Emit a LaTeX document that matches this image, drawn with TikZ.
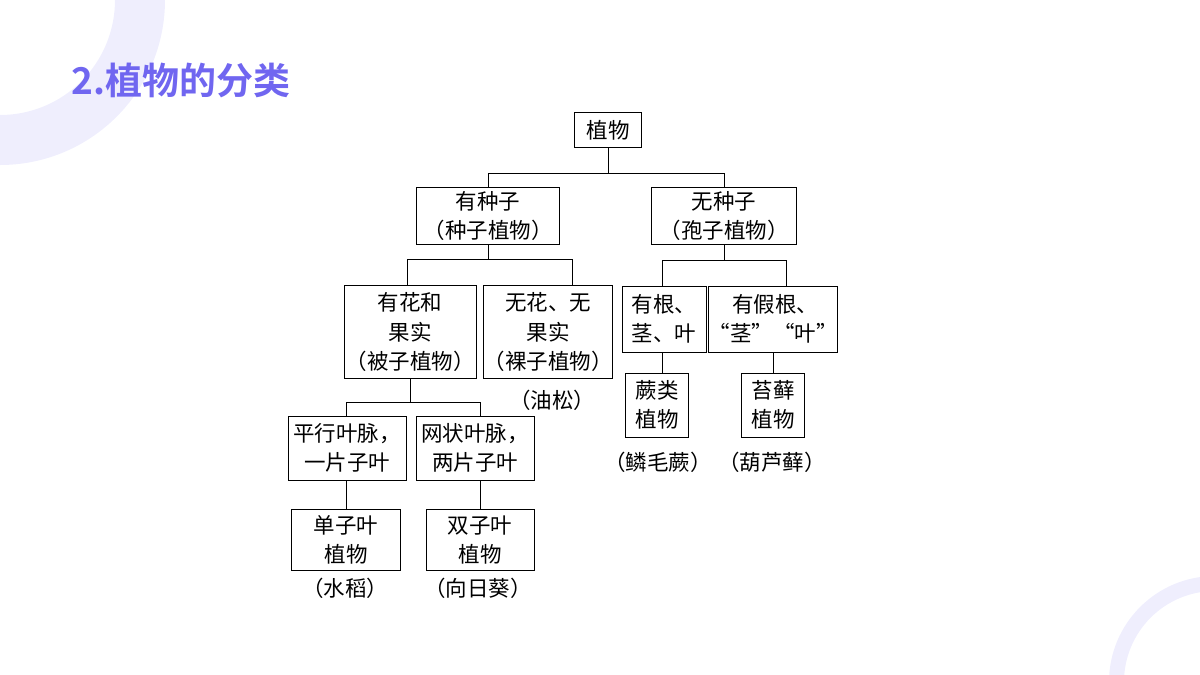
\documentclass[tikz,border=0pt]{standalone}
\usepackage{fontspec}
\setmainfont{Noto Sans CJK SC}
\newfontfamily\titlefont{Noto Sans CJK SC Bold}
\definecolor{ring}{HTML}{EFEEFD}
\definecolor{titlepurple}{HTML}{7066F0}
\tikzset{
    box/.style={draw, thick, rectangle, align=center, inner sep=0pt, font=\fontsize{21.5}{29.5}\selectfont},
    ex/.style={align=center, inner sep=0pt, font=\fontsize{21.5}{29.5}\selectfont},
    link/.style={thick}
}
\begin{document}
\begin{tikzpicture}[x=1pt, y=-1pt]
    \useasboundingbox (0,0) rectangle (1200,675);

    % Background rings
    \begin{scope}
        \clip (0,0) rectangle (1200,675);
        \fill[ring, even odd rule] (0,0) circle (165) (0,0) circle (115);
        \fill[ring, even odd rule] (1215,682) circle (106) (1215,682) circle (91);
    \end{scope}

    % Title
    \node[anchor=west, text=titlepurple, font=\titlefont\fontsize{37}{37}\selectfont] (title) at (68,80) {2.植物的分类};

    % Tree boxes
    \node[box, minimum width=67, minimum height=35] (plant) at (608,130) {植物};
    \node[box, minimum width=143, minimum height=57] (seed) at (488,216) {有种子\\（种子植物）};
    \node[box, minimum width=145, minimum height=57] (spore) at (724,216) {无种子\\（孢子植物）};
    \node[box, minimum width=132, minimum height=93] (angio) at (410,332) {有花和\\果实\\（被子植物）};
    \node[box, minimum width=127, minimum height=93] (gymno) at (548,332) {无花、无\\果实\\（裸子植物）};
    \node[box, minimum width=84, minimum height=66] (fern) at (664,319) {有根、\\茎、叶};
    \node[box, minimum width=114, minimum height=66] (moss) at (773,319) {\ 有假根、\\“茎”“叶”};
    \node[box, minimum width=63, minimum height=64] (fernplant) at (657,405) {蕨类\\植物};
    \node[box, minimum width=63, minimum height=64] (mossplant) at (773,405) {苔藓\\植物};
    \node[box, minimum width=118, minimum height=64] (parallel) at (347,448) {平行叶脉，\\一片子叶};
    \node[box, minimum width=118, minimum height=64] (netted) at (475,448) {网状叶脉，\\两片子叶};
    \node[box, minimum width=109, minimum height=61] (mono) at (346,540) {单子叶\\植物};
    \node[box, minimum width=108, minimum height=61] (dicot) at (480,540) {双子叶\\植物};

    % Examples
    \node[ex] (pine) at (552,400) {（油松）};
    \node[ex] (fernex) at (658,462) {（鳞毛蕨）};
    \node[ex] (mossex) at (772,462) {（葫芦藓）};
    \node[ex] (rice) at (345,588) {（水稻）};
    \node[ex] (sunflower) at (478,588) {（向日葵）};

    % Connectors
    \draw[link] (plant.south) -- ++(0,25) -| (seed.north);
    \draw[link] (plant.south) ++(0,25) -| (spore.north);
    \draw[link] (seed.north) ++(0,57) -- ++(0,15) -| ([xshift=-3pt]angio.north);
    \draw[link] (seed.north) ++(0,72) -| ([xshift=24pt]gymno.north);
    \draw[link] (spore.south) -- ++(0,15) -| ([xshift=-2pt]fern.north);
    \draw[link] (spore.south) ++(0,15) -| ([xshift=13pt]moss.north);
    \draw[link] ([xshift=-2pt]fern.south) -- ([xshift=-2pt]fern.south |- fernplant.north);
    \draw[link] (moss.south) -- (mossplant.north);
    \draw[link] (angio.south) -- ++(0,23) -| ([xshift=-1pt]parallel.north);
    \draw[link] (angio.south) ++(0,23) -| ([xshift=5pt]netted.north);
    \draw[link] ([xshift=-1pt]parallel.south) -- (mono.north);
    \draw[link] ([xshift=5pt]netted.south) -- (dicot.north);
\end{tikzpicture}
\end{document}
